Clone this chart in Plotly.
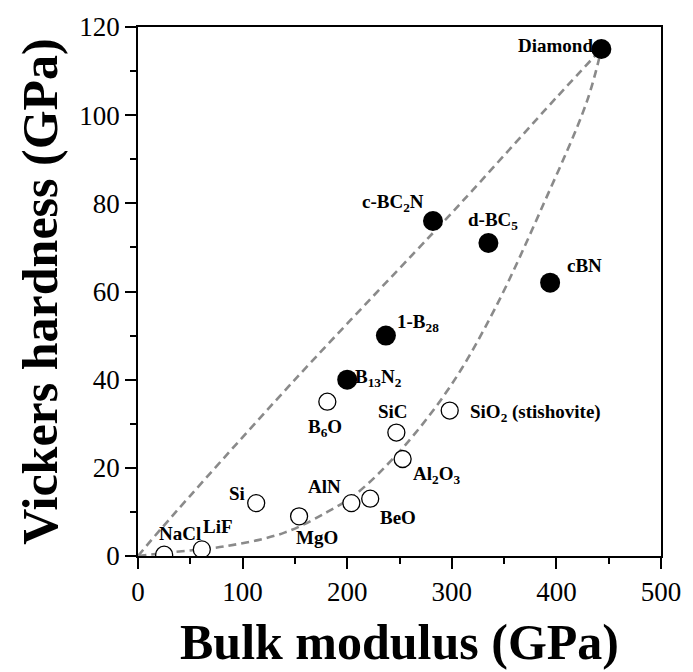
import plotly.graph_objects as go

# ---- data ----
open_names = ["NaCl", "LiF", "Si", "MgO", "AlN", "BeO", "B6O", "SiC", "Al2O3", "SiO2"]
open_bulk = [25, 61, 113, 154, 204, 222, 181, 247, 253, 298]
open_hard = [0.3, 1.5, 12, 9, 12, 13, 35, 28, 22, 33]

filled_names = ["B13N2", "1-B28", "c-BC2N", "d-BC5", "cBN", "Diamond"]
filled_bulk = [200, 237, 282, 335, 394, 443]
filled_hard = [40, 50, 76, 71, 62, 115]

# dashed guide curves
upper_x = [0, 24, 150, 292, 320, 400, 443]
upper_y = [0, 6.7, 40, 75.8, 83, 104, 115]
lower_x = [0, 30, 86, 140, 181, 208, 253, 300, 341, 388, 429, 443]
lower_y = [0, 0.8, 2.3, 5.3, 10, 14, 24.5, 39, 56, 80, 103, 115]

x_ticks = [0, 100, 200, 300, 400, 500]
y_ticks = [0, 20, 40, 60, 80, 100, 120]

# label text and placement (x, y, anchor)
labels = {
    "NaCl": ("NaCl", 40, 5.0, "center"),
    "LiF": ("LiF", 76.5, 6.6, "center"),
    "Si": ("Si", 94.5, 14.2, "center"),
    "MgO": ("MgO", 171.5, 4.2, "center"),
    "AlN": ("AlN", 178, 15.8, "center"),
    "BeO": ("BeO", 249, 8.7, "center"),
    "B6O": ("B<sub>6</sub>O", 179, 29.0, "center"),
    "SiC": ("SiC", 243.6, 32.8, "center"),
    "Al2O3": ("Al<sub>2</sub>O<sub>3</sub>", 285.5, 18.3, "center"),
    "SiO2": ("SiO<sub>2</sub> (stishovite)", 315.5, 32.4, "left"),
    "B13N2": ("B<sub>13</sub>N<sub>2</sub>", 229.7, 40.3, "center"),
    "1-B28": ("1-B<sub>28</sub>", 268, 52.8, "center"),
    "c-BC2N": ("c-BC<sub>2</sub>N", 244, 80.0, "center"),
    "d-BC5": ("d-BC<sub>5</sub>", 339.6, 76.0, "center"),
    "cBN": ("cBN", 408, 66.0, "left"),
    "Diamond": ("Diamond", 436.5, 115.8, "right"),
}

SERIF = "Liberation Serif"

fig = go.Figure()

for xs, ys in [(upper_x, upper_y), (lower_x, lower_y)]:
    fig.add_trace(go.Scatter(
        x=xs, y=ys, mode="lines", line_shape="spline",
        line=dict(color="#8a8a8a", width=2.6, dash="8px,5px"),
        hoverinfo="skip", showlegend=False))

fig.add_trace(go.Scatter(
    x=open_bulk, y=open_hard, mode="markers",
    marker=dict(symbol="circle", size=17, color="white",
                line=dict(color="black", width=1.3)),
    text=open_names, showlegend=False))

fig.add_trace(go.Scatter(
    x=filled_bulk, y=filled_hard, mode="markers",
    marker=dict(symbol="circle", size=20, color="black",
                line=dict(color="black", width=0)),
    text=filled_names, showlegend=False))

for key, (txt, lx, ly, anc) in labels.items():
    fig.add_annotation(
        x=lx, y=ly, xref="x", yref="y", text="<b>" + txt + "</b>",
        showarrow=False, xanchor=anc, yanchor="middle",
        font=dict(family=SERIF, size=19, color="black"))

axis_common = dict(
    showgrid=False, zeroline=False, showline=True, linecolor="black",
    linewidth=1.6, mirror=True, ticks="outside", ticklen=11,
    tickwidth=1.6, tickcolor="black",
    tickfont=dict(family=SERIF, size=27, color="black"),
)

fig.update_xaxes(
    range=[0, 500], tickmode="array", tickvals=x_ticks,
    ticktext=[str(v) for v in x_ticks],
    minor=dict(ticks="outside", ticklen=6, tickwidth=1.6,
               tickcolor="black", dtick=50, tick0=0, showgrid=False),
    title=dict(text="<b>Bulk modulus (GPa)</b>", standoff=18,
               font=dict(family=SERIF, size=50, color="black")),
    **axis_common)

fig.update_yaxes(
    range=[0, 120], tickmode="array", tickvals=y_ticks,
    ticktext=[str(v) for v in y_ticks],
    minor=dict(ticks="outside", ticklen=6, tickwidth=1.6,
               tickcolor="black", dtick=10, tick0=0, showgrid=False),
    title=dict(text="<b>Vickers hardness (GPa)</b>", standoff=6,
               font=dict(family=SERIF, size=50, color="black")),
    **axis_common)

fig.update_layout(
    width=693, height=672,
    margin=dict(l=138, r=23, t=27, b=115),
    plot_bgcolor="white", paper_bgcolor="white",
    font=dict(family=SERIF, color="black"),
)

fig.write_html("out.html")
